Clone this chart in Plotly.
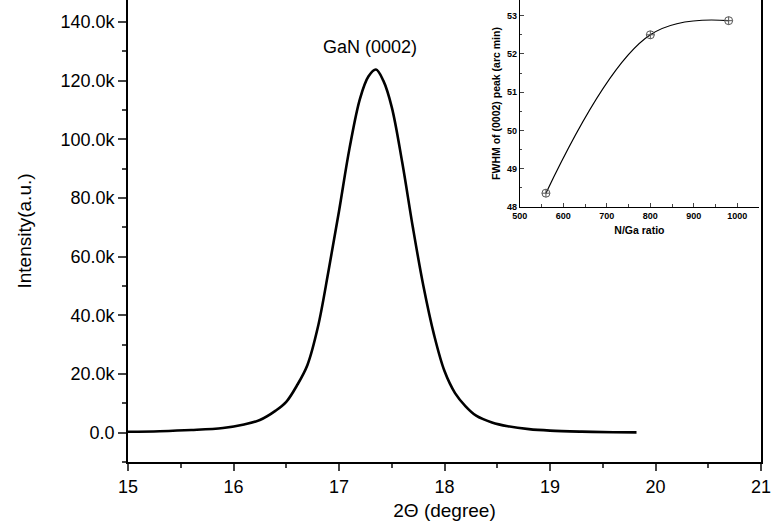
import plotly.graph_objects as go

# Main XRD scan (2theta in degree, intensity in counts)
two_theta = [15.0, 15.3, 15.6, 15.9, 16.1, 16.25, 16.4, 16.5, 16.6, 16.7, 16.8, 16.9,
             17.0, 17.1, 17.2, 17.28, 17.35, 17.42, 17.5, 17.6, 17.7, 17.8, 17.9,
             18.0, 18.1, 18.2, 18.3, 18.45, 18.6, 18.8, 19.0, 19.3, 19.6, 19.82]
intensity = [300, 500, 900, 1600, 2800, 4300, 7500, 10500, 16000, 23000, 36000, 55000,
             75500, 97000, 114000, 121500, 123800, 120000, 111000, 92000, 70000, 50000, 33500,
             21000, 13500, 9000, 5800, 3500, 2200, 1200, 700, 350, 150, 100]

# Inset: FWHM vs N/Ga ratio
ratio = [560, 800, 980]
fwhm = [48.36, 52.5, 52.87]

y_tickvals = [0, 20000, 40000, 60000, 80000, 100000, 120000, 140000]
y_ticktext = ["0.0", "20.0k", "40.0k", "60.0k", "80.0k", "100.0k", "120.0k", "140.0k"]
x_tickvals = [15, 16, 17, 18, 19, 20, 21]
inset_xticks = [500, 600, 700, 800, 900, 1000]
inset_yticks = [48, 49, 50, 51, 52, 53]

FONT = "Arial, Liberation Sans, sans-serif"

fig = go.Figure()
fig.add_trace(go.Scatter(x=two_theta, y=intensity, mode="lines",
                         line=dict(color="black", width=2.6, shape="spline", smoothing=1.0),
                         xaxis="x", yaxis="y", showlegend=False))
fig.add_trace(go.Scatter(x=ratio, y=fwhm, mode="lines+markers",
                         line=dict(color="black", width=1.2, shape="spline", smoothing=1.1),
                         marker=dict(symbol="circle-cross-open", size=8,
                                     color="#555", line=dict(width=1, color="#555")),
                         xaxis="x2", yaxis="y2", showlegend=False))

fig.add_annotation(x=17.29, y=131500, xref="x", yref="y", text="GaN (0002)",
                   showarrow=False, font=dict(family=FONT, size=18, color="black"))

fig.update_layout(
    width=771, height=530,
    margin=dict(l=128, r=10, t=0, b=68),
    paper_bgcolor="white", plot_bgcolor="white",
    font=dict(family=FONT, color="black"),
    xaxis=dict(domain=[0, 1], range=[15, 21], tickvals=x_tickvals, ticks="outside",
               ticklen=7, tickwidth=1.5, showline=True, linewidth=1.8, linecolor="black",
               mirror=False, showgrid=False, zeroline=False, automargin=False,
               ticklabeloverflow="allow",
               minor=dict(dtick=0.5, tick0=15, ticks="outside", ticklen=4, tickwidth=1.5),
               tickfont=dict(size=18, family=FONT),
               title=dict(text="2\u0398 (degree)", font=dict(size=19, family=FONT), standoff=8)),
    yaxis=dict(domain=[0, 1], range=[-10000, 147500], tickvals=y_tickvals, ticktext=y_ticktext,
               ticks="outside", ticklen=8, tickwidth=1.5, showline=True, linewidth=1.8,
               linecolor="black", mirror=True, showgrid=False, zeroline=False,
               automargin=False, ticklabeloverflow="allow",
               minor=dict(dtick=10000, tick0=0, ticks="outside", ticklen=4, tickwidth=1.5),
               tickfont=dict(size=18, family=FONT),
               title=dict(text="Intensity(a.u.)", font=dict(size=19, family=FONT), standoff=24)),
    xaxis2=dict(domain=[0.619, 0.997], range=[500, 1050], anchor="y2", tickvals=inset_xticks,
                ticks="inside", ticklen=4, tickwidth=1, showline=True, linewidth=1.2,
                linecolor="black", showgrid=False, zeroline=False, automargin=False,
                minor=dict(dtick=50, tick0=500, ticks="inside", ticklen=2.5, tickwidth=1),
                tickfont=dict(size=9, family=FONT, weight="bold"),
                title=dict(text="<b>N/Ga ratio</b>", font=dict(size=10.5, family=FONT), standoff=6)),
    yaxis2=dict(domain=[0.552, 1.0], range=[48, 53.41], anchor="x2", tickvals=inset_yticks,
                ticks="inside", ticklen=4, tickwidth=1, showline=True, linewidth=1.2,
                linecolor="black", showgrid=False, zeroline=False, automargin=False,
                minor=dict(dtick=0.5, tick0=48, ticks="inside", ticklen=2.5, tickwidth=1),
                tickfont=dict(size=9, family=FONT, weight="bold"),
                title=dict(text="<b>FWHM of (0002) peak (arc min)</b>",
                           font=dict(size=10.5, family=FONT), standoff=4)),
)

fig.write_html("out.html", config={"displayModeBar": False},
               post_script="document.body.style.margin='0px';")
